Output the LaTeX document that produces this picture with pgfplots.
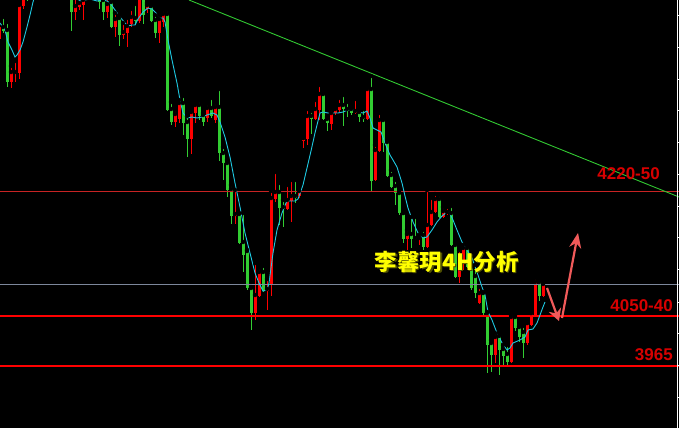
\documentclass[border=0pt]{standalone}
\usepackage{pgfplots}
\pgfplotsset{compat=1.18}
\usepackage{pgfplotstable}
\usepackage{fontspec}
\setmainfont{Liberation Sans}
\newfontfamily\cjk{Noto Sans CJK SC}
\usetikzlibrary{arrows.meta}
\definecolor{cgreen}{RGB}{50,205,50}
\definecolor{cred}{RGB}{255,0,0}
\definecolor{ccyan}{RGB}{30,200,225}
\definecolor{ctrend}{RGB}{50,200,50}
\definecolor{clab}{RGB}{215,0,0}
\definecolor{cgray}{RGB}{125,135,155}
\definecolor{carrow}{RGB}{240,90,90}
\definecolor{cyel}{RGB}{255,255,0}

% x hi bodytop bodybottom lo  (screen pixels, y downward)
\pgfplotstableread{
x hi bt bb lo
3 17 27 31 33
7 22 30 82 87
27 -25 -20 -2 1
71 -10 -5 12 31
99 -8 -5 2 9
103 -5 0 12 20
111 -1 2 27 28
119 15 18 35 46
135 4 18 21 25
143 -5 -2 15 24
151 5 6 21 22
155 15 20 33 38
167 10 14 110 111
171 102 109 122 125
183 96 103 123 135
187 116 122 139 157
199 101 105 116 120
203 113 115 122 126
211 98 108 116 118
219 89 107 153 161
223 147 153 163 180
227 160 163 190 197
231 185 189 216 224
239 213 214 243 244
243 213 242 255 272
247 250 251 288 290
251 287 288 313 330
263 266 272 291 292
279 183 192 208 225
283 200 207 209 227
295 180 196 198 203
311 111 116 119 134
323 93 94 119 120
327 117 119 123 131
343 95 105 109 126
347 102 109 111 117
351 107 109 113 115
359 109 112 117 122
363 109 117 119 122
371 76 89 181 191
383 118 120 143 152
387 140 142 176 177
391 170 175 187 188
395 180 186 193 205
399 192 193 213 215
403 213 213 239 243
411 217 234 239 248
415 217 238 239 240
423 230 235 247 250
439 195 199 217 218
451 206 213 245 246
455 242 245 277 278
467 245 248 267 268
471 265 267 288 290
475 265 276 293 298
483 292 293 313 315
487 312 313 345 373
491 340 343 355 372
499 333 336 350 375
503 345 349 356 365
507 345 354 362 367
515 315 317 328 331
519 326 327 337 342
523 326 332 343 358
539 279 282 296 301
}\greendata

\pgfplotstableread{
x hi bt bb lo
-1 20 27 39 42
11 66 72 82 88
15 61 72 73 82
19 3 5 73 79
23 -10 -5 6 9
75 -2 6 12 20
79 -2 3 7 10
83 -3 0 5 20
107 -2 4 12 18
115 13 19 27 37
123 23 32 35 39
127 18 26 33 47
131 9 17 24 27
139 -5 -2 21 23
147 3 5 9 13
159 15 19 33 43
163 10 14 22 27
175 110 114 122 127
179 100 103 119 123
191 110 112 139 154
195 102 105 113 123
207 104 108 118 122
215 103 107 120 123
235 190 214 216 224
255 263 295 313 320
259 268 272 296 297
267 279 289 291 310
271 191 198 284 296
275 172 192 199 202
287 185 200 209 210
291 180 196 201 222
299 188 191 196 198
303 138 138 141 148
307 109 116 139 145
315 100 109 119 120
319 85 94 110 120
331 109 113 124 130
335 108 109 113 115
339 98 105 110 112
355 99 111 113 114
367 87 89 119 120
375 145 150 180 181
379 113 120 151 152
407 230 234 239 250
419 235 238 239 245
427 190 225 247 248
431 198 212 225 226
435 194 199 212 213
443 207 211 217 218
447 207 212 213 215
459 250 265 277 283
463 245 248 264 270
479 287 293 303 304
495 333 337 355 363
511 315 317 362 363
527 323 323 343 345
531 313 313 325 326
535 278 282 315 317
543 283 284 296 297
}\reddata

\begin{document}
\begin{tikzpicture}
\useasboundingbox (0,0) rectangle (679pt,428pt);
\fill[black] (0,0) rectangle (679pt,428pt);
\begin{axis}[
  scale only axis, width=679pt, height=428pt,
  xmin=0, xmax=679, ymin=0, ymax=428, y dir=reverse,
  hide axis, clip=true,
  anchor=south west, at={(0,0)},
]
% wicks
\addplot[only marks, mark=none, forget plot,
  error bars/.cd, y dir=both, y explicit, error mark=none,
  error bar style={draw=cgreen, line width=1pt}]
  table[x=x, y=hi, y error plus expr=\thisrow{lo}-\thisrow{hi}, y error minus expr=0] {\greendata};
\addplot[only marks, mark=none, forget plot,
  error bars/.cd, y dir=both, y explicit, error mark=none,
  error bar style={draw=cred, line width=1pt}]
  table[x=x, y=hi, y error plus expr=\thisrow{lo}-\thisrow{hi}, y error minus expr=0] {\reddata};
% bodies
\addplot[only marks, mark=none, forget plot,
  error bars/.cd, y dir=both, y explicit, error mark=none,
  error bar style={draw=cgreen, line width=3pt}]
  table[x=x, y=bt, y error plus expr={max(\thisrow{bb}-\thisrow{bt},1)}, y error minus expr=0] {\greendata};
\addplot[only marks, mark=none, forget plot,
  error bars/.cd, y dir=both, y explicit, error mark=none,
  error bar style={draw=cred, line width=3pt}]
  table[x=x, y=bt, y error plus expr={max(\thisrow{bb}-\thisrow{bt},1)}, y error minus expr=0] {\reddata};
% horizontal levels
\addplot[draw={rgb,255:red,200;green,35;blue,35}, line width=0.9pt] coordinates {(0,191) (679,191)};
\addplot[draw=cgray, line width=1pt] coordinates {(0,284) (679,284)};
\addplot[draw=cred, line width=1.2pt] coordinates {(0,316) (679,316)};
\addplot[draw=cred, line width=1.2pt] coordinates {(0,366) (679,366)};
% moving average
\addplot[draw=ccyan, line width=0.9pt] coordinates {
(0,23)(5,30)(8,42)(12,50)(15,57)(17,55)(20,50)(23,42)(27,27)(30,15)(33,2)(36,-8)
(50,-20)(70,-8)(80,1)(85,0)(90,-1)(97,1)(103,0)(107,1)(110,3)(115,10)(120,17)(125,23)
(128,26)(132,25)(135,25)(138,19)(143,12)(148,8)(152,9)(156,13)(160,18)(163,18)(165,22)
(168,40)(172,60)(177,83)(180,100)(183,113)(187,118)(192,117)(197,118)(202,117)(207,115)
(213,113)(217,115)(220,122)(225,137)(230,157)(235,183)(240,207)(245,233)(250,253)
(255,273)(259,283)(263,291)(267,290)(269,283)(273,253)(277,230)(282,213)(286,203)
(287,201)(295,201)(298,199)(303,185)(307,168)(311,151)(315,133)(320,113)(323,112)
(328,113)(333,113)(338,113)(343,112)(348,110)(353,110)(358,112)(363,113)(367,111)
(370,118)(373,128)(377,130)(381,132)(385,143)(390,155)(393,160)(397,167)(402,183)
(405,196)(408,208)(413,222)(418,233)(423,238)(427,237)(432,230)(437,222)(442,216)
(447,212)(449,212)(453,220)(457,230)(462,242)(467,250)(472,258)(477,272)(482,287)
(485,295)(488,312)(492,320)(497,333)(502,343)(507,350)(510,348)(513,343)(520,340)
(525,337)(528,330)(533,329)(537,323)(540,315)(543,307)(545,302)};
% trend line
\addplot[draw=ctrend, line width=0.9pt] coordinates {(189,0) (679,197)};
% right price scale
\addplot[draw=white, line width=1pt] coordinates {(677,0) (677,428)};
\addplot[only marks, mark=-, mark size=1.5pt, mark options={draw=white, line width=0.8pt}]
  coordinates {(678,15)(678,47)(678,79)(678,110)(678,142)(678,174)(678,206)(678,237)(678,269)(678,302)(678,333)(678,365)(678,397)};
% labels
\node[anchor=base east, inner sep=0pt, text=clab, font=\fontsize{17}{17}\selectfont\bfseries] at (axis cs:660,179) {4220-50};
\node[anchor=base east, inner sep=0pt, text=clab, font=\fontsize{17}{17}\selectfont\bfseries] at (axis cs:673,311) {4050-40};
\node[anchor=base east, inner sep=0pt, text=clab, font=\fontsize{17}{17}\selectfont\bfseries] at (axis cs:673,360) {3965};
% arrows
\draw[carrow, line width=2.2pt, -{Stealth[length=12pt, width=13pt]}] (axis cs:547,288) -- (axis cs:559,321);
\draw[carrow, line width=2.2pt, -{Stealth[length=15pt, width=12pt]}] (axis cs:562,318) -- (axis cs:578,233);
\end{axis}
% title text with shadow, drawn over the candles
\node[inner sep=0pt, text={rgb,255:red,80;green,80;blue,0}, font=\cjk\bfseries\fontsize{22.5}{22.5}\selectfont] at (447.9pt,165.5pt) {李馨玥4H分析};
\node[inner sep=0pt, text=cyel, font=\cjk\bfseries\fontsize{22.5}{22.5}\selectfont] at (446.7pt,166.5pt) {李馨玥4H分析};
\end{tikzpicture}
\end{document}
